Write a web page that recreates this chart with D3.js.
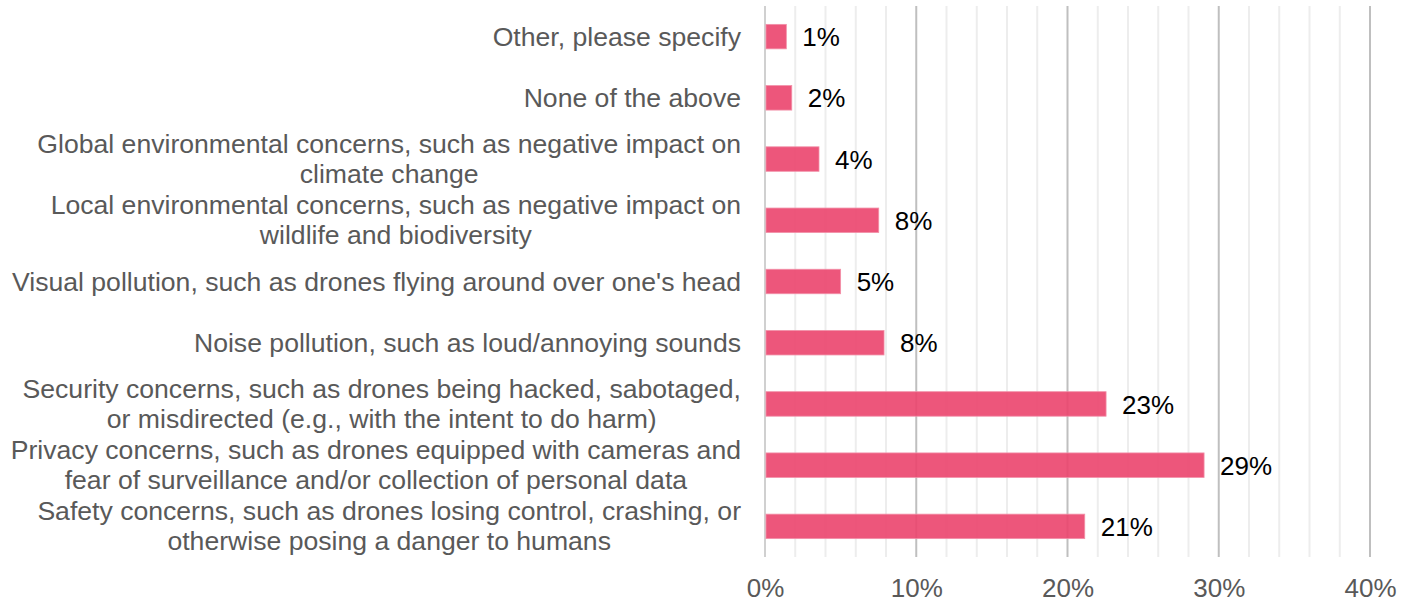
<!DOCTYPE html>
<html>
<head>
<meta charset="utf-8">
<script src="https://cdn.jsdelivr.net/npm/d3@7"></script>
<style>
  html, body { margin: 0; padding: 0; background: #fff; }
  svg { display: block; font-family: "Liberation Sans", Arial, sans-serif; }
</style>
</head>
<body>
<svg id="chart" width="1412" height="602"></svg>
<script>
// Survey responses: concerns about drone use (share of respondents)
const categories = [
  ["Other, please specify"],
  ["None of the above"],
  ["Global environmental concerns, such as negative impact on", "climate change"],
  ["Local environmental concerns, such as negative impact on", "wildlife and biodiversity"],
  ["Visual pollution, such as drones flying around over one's head"],
  ["Noise pollution, such as loud/annoying sounds"],
  ["Security concerns, such as drones being hacked, sabotaged,", "or misdirected (e.g., with the intent to do harm)"],
  ["Privacy concerns, such as drones equipped with cameras and", "fear of surveillance and/or collection of personal data"],
  ["Safety concerns, such as drones losing control, crashing, or", "otherwise posing a danger to humans"]
];
const values = [0.0141, 0.0177, 0.0357, 0.0752, 0.0500, 0.0787, 0.2255, 0.2903, 0.2114];
const xTicks = [0, 0.1, 0.2, 0.3, 0.4];
const minorTicks = d3.range(0, 0.4001, 0.02);

const svg = d3.select("#chart");
const margin = { left: 765, right: 42, top: 6, bottom: 45 };
const width = 1412, height = 602;

const x = d3.scaleLinear().domain([0, 0.4]).range([margin.left, width - margin.right]);
const y = d3.scaleBand()
  .domain(d3.range(categories.length))
  .range([margin.top, height - margin.bottom])
  .paddingInner(0.6)
  .paddingOuter(0.3);

// minor gridlines every 2%
svg.append("g").selectAll("line")
  .data(minorTicks.filter(t => Math.round(t * 100) % 10 !== 0))
  .join("line")
  .attr("x1", d => x(d)).attr("x2", d => x(d))
  .attr("y1", margin.top).attr("y2", height - margin.bottom)
  .attr("stroke", "#ededed").attr("stroke-width", 2);

// major gridlines every 10%
svg.append("g").selectAll("line")
  .data(xTicks)
  .join("line")
  .attr("x1", d => x(d)).attr("x2", d => x(d))
  .attr("y1", margin.top).attr("y2", height - margin.bottom)
  .attr("stroke", d => d === 0 ? "#d0d0d0" : "#bfbfbf").attr("stroke-width", 2);

// bars
svg.append("g").selectAll("rect")
  .data(values)
  .join("rect")
  .attr("x", x(0) + 1)
  .attr("y", (d, i) => y(i))
  .attr("width", d => x(d) - x(0) - 1)
  .attr("height", y.bandwidth())
  .attr("fill", "#eb446d")
  .attr("fill-opacity", 0.9)
  .attr("stroke", "#f290a8")
  .attr("stroke-width", 0.8);

// value labels
const fmt = d3.format(".0%");
svg.append("g").selectAll("text")
  .data(values)
  .join("text")
  .attr("x", d => x(d) + 16)
  .attr("y", (d, i) => y(i) + y.bandwidth() / 2)
  .attr("dy", "0.37em")
  .attr("font-size", 26)
  .attr("fill", "#000")
  .text(d => fmt(d));

// x axis tick labels
const xAxis = d3.axisBottom(x).tickValues(xTicks).tickFormat(d3.format(".0%")).tickSize(0).tickPadding(0);
const gx = svg.append("g")
  .attr("transform", `translate(0,${height - margin.bottom})`)
  .call(xAxis);
gx.select(".domain").remove();
gx.selectAll("text")
  .attr("font-size", 26)
  .attr("font-family", "Liberation Sans, Arial, sans-serif")
  .attr("fill", "#595959")
  .attr("y", 40)
  .attr("dy", 0);

// category labels: wrapped lines centered within a right-aligned block
const lineH = 30;
const labelRight = 741;
const gl = svg.append("g").attr("font-size", 26.6).attr("fill", "#595959");
categories.forEach((lines, i) => {
  const cy = y(i) + y.bandwidth() / 2;
  const t = gl.append("text").attr("text-anchor", "middle");
  const spans = lines.map((s, k) => t.append("tspan")
    .attr("y", cy + (k - (lines.length - 1) / 2) * lineH)
    .attr("dy", "0.34em")
    .text(s));
  const w = d3.max(spans, s => s.node().getComputedTextLength());
  spans.forEach(s => s.attr("x", labelRight - w / 2));
});
</script>
</body>
</html>
